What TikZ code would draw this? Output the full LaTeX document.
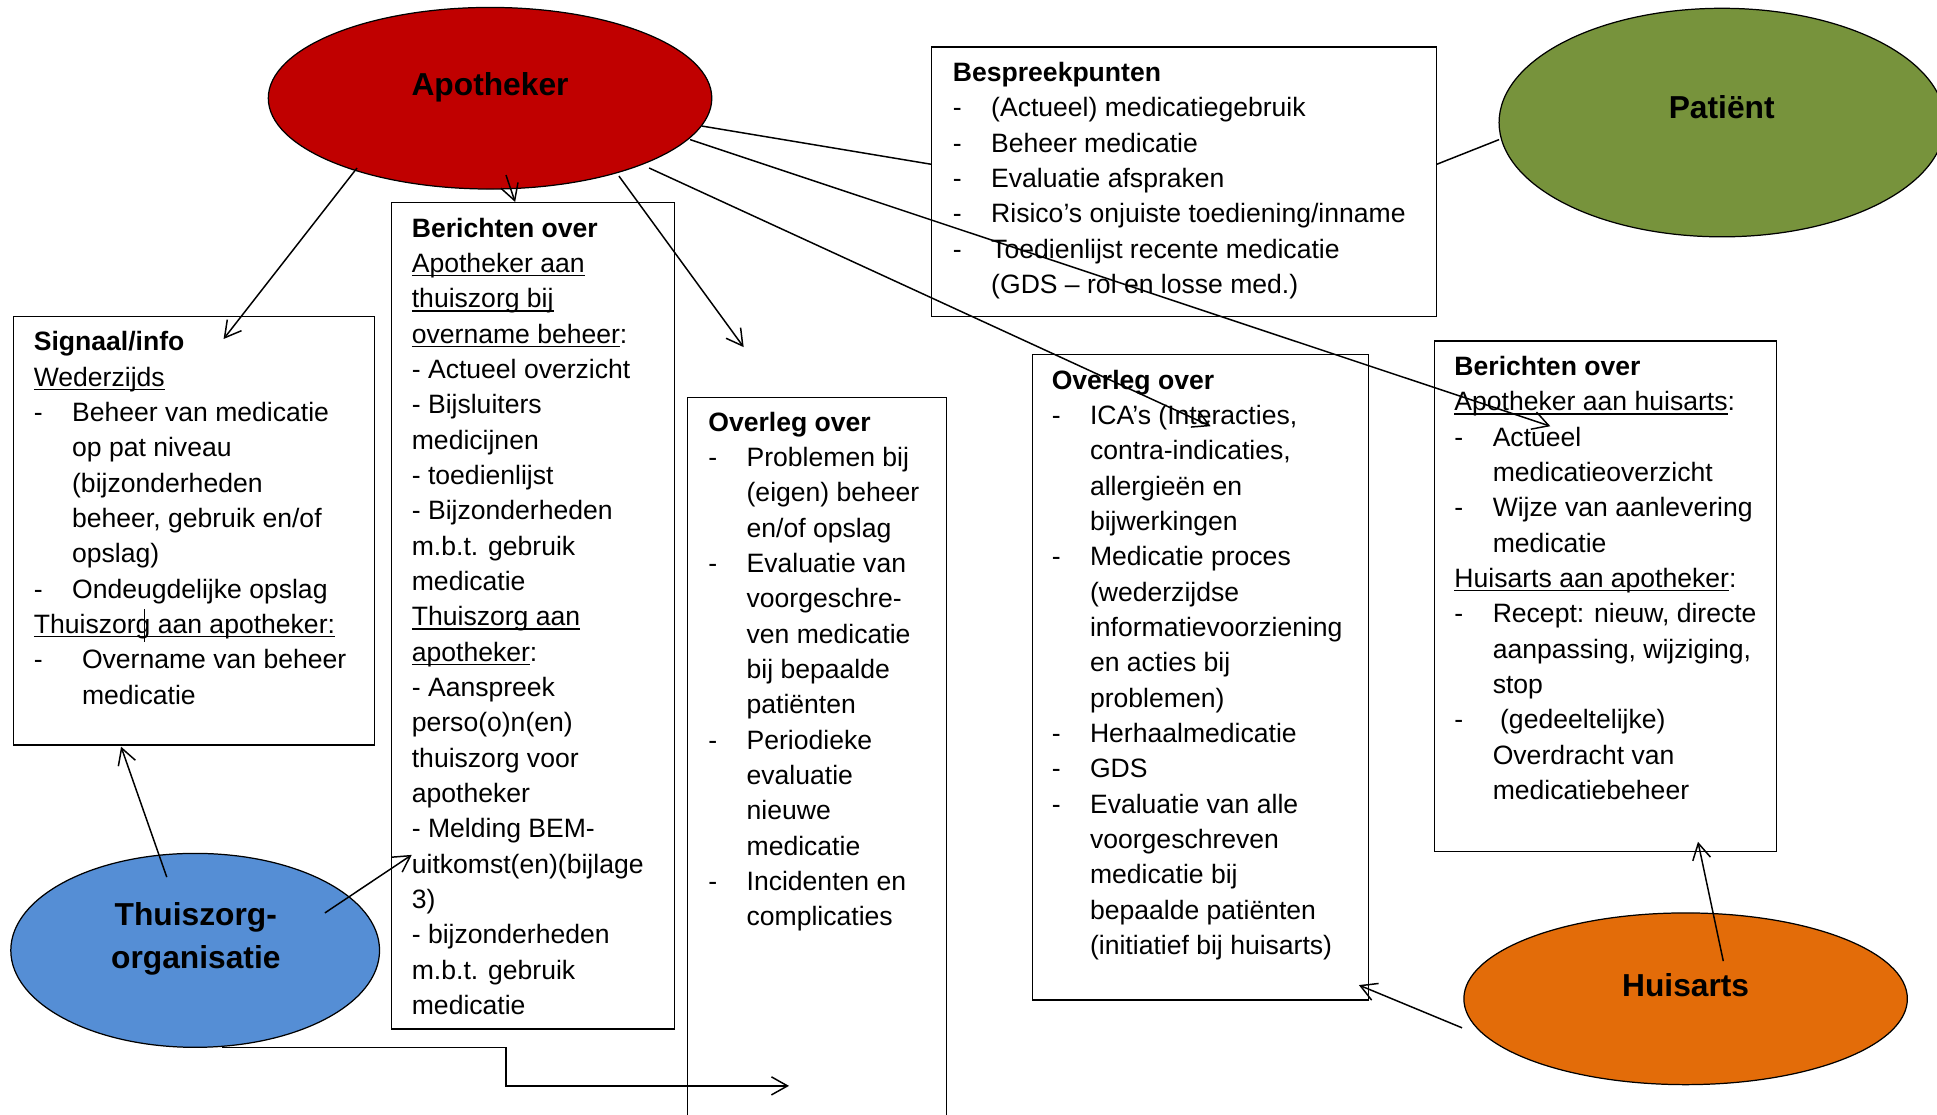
\documentclass[tikz,border=0pt]{standalone}
\usepackage{fontspec}
\setmainfont{Liberation Sans}
\usetikzlibrary{shapes.geometric,arrows.meta,fit,calc}
\definecolor{apored}{RGB}{192,0,0}
\definecolor{patgreen}{RGB}{119,147,60}
\definecolor{thzblue}{RGB}{85,142,213}
\definecolor{huiorange}{RGB}{227,108,9}
\newcommand\undl[1]{\leavevmode\setbox0=\hbox{#1}\rlap{\rule[-1.6pt]{\wd0}{0.6pt}}\box0}
\newcommand\dashitem[1]{\leavevmode\makebox[15.5pt][l]{-}#1}
\newcommand\contline[1]{\leavevmode\hspace*{15.5pt}#1}
\tikzset{
  boxed/.style={draw=black, line width=0.5pt, inner sep=0pt, outer sep=0pt},
  ell/.style={ellipse, draw=black, line width=0.5pt, inner sep=0pt},
  txt/.style={inner sep=0pt, anchor=base west, font=\fontsize{10.75pt}{14.3pt}\selectfont},
  lbl/.style={inner sep=0pt, anchor=base, font=\fontsize{12.85pt}{17.5pt}\selectfont\bfseries},
  conn/.style={line width=0.6pt},
  arr/.style={conn, -{Straight Barb[length=6.5pt,width=7.3pt]}},
}
\begin{document}
\begin{tikzpicture}[x=0.5pt,y=-0.5pt]
\useasboundingbox (0,0) rectangle (1568,902);

% boxes
\node[boxed, fit={(754,38) (1163,256)}] (besp) {};
\node[boxed, fit={(11,256.4) (303,603)}] (sig) {};
\node[boxed, fit={(317,164) (545.7,833)}] (berL) {};
\node[boxed, fit={(556.5,322) (766.4,925)}] (ovM) {};
\node[boxed, fit={(835.5,287) (1107.6,809.5)}] (ovR) {};
\node[boxed, fit={(1161,276) (1438.3,689.5)}] (berR) {};

% ellipses
\node[ell, fill=apored, minimum width=179.5pt, minimum height=73.5pt] (apo) at (396.7,79.5) {};
\node[ell, fill=patgreen, minimum width=180.5pt, minimum height=92.5pt] (pat) at (1394,99.2) {};
\node[ell, fill=thzblue, minimum width=149.25pt, minimum height=78.5pt] (thz) at (158,769.3) {};
\node[ell, fill=huiorange, minimum width=179.5pt, minimum height=69.5pt] (hui) at (1364.5,808.5) {};

% ellipse labels
\node[lbl] (apoT) at (396.7,77) {Apotheker};
\node[lbl] (patT) at (1393.7,95.8) {Patiënt};
\node[lbl] (huiT) at (1364.5,806.8) {Huisarts};
\node[lbl] (thzT) at (158.5,748.8) {\parbox[t]{140pt}{\centering Thuiszorg-\\organisatie}};

% box texts
\node[txt] (bespT) at (771,66) {\parbox[t]{230pt}{\raggedright
\textbf{Bespreekpunten}\\
\dashitem{(Actueel) medicatiegebruik}\\
\dashitem{Beheer medicatie}\\
\dashitem{Evaluatie afspraken}\\
\dashitem{Risico’s onjuiste toediening/inname}\\
\dashitem{Toedienlijst recente medicatie}\\
\contline{(GDS – rol en losse med.)}}};

\node[txt] (sigT) at (27,284) {\parbox[t]{160pt}{\raggedright
\textbf{Signaal/info}\\
\undl{Wederzijds}\\
\dashitem{Beheer van medicatie}\\
\contline{op pat niveau}\\
\contline{(bijzonderheden}\\
\contline{beheer, gebruik en/of}\\
\contline{opslag)}\\
\dashitem{Ondeugdelijke opslag}\\
\undl{Thuiszorg aan apotheker:}\\
\leavevmode\makebox[19.5pt][l]{-}Overname van beheer\\
\leavevmode\hspace*{19.5pt}medicatie}};

\node[txt] (berLT) at (333,192) {\parbox[t]{130pt}{\raggedright
\textbf{Berichten over}\\
\undl{Apotheker aan}\\
\undl{thuiszorg bij}\\
\undl{overname beheer}:\\
- Actueel overzicht\\
- Bijsluiters\\
medicijnen\\
- toedienlijst\\
- Bijzonderheden\\
m.b.t. gebruik\\
medicatie\\
\undl{Thuiszorg aan}\\
\undl{apotheker}:\\
- Aanspreek\\
perso(o)n(en)\\
thuiszorg voor\\
apotheker\\
- Melding BEM-\\
uitkomst(en)(bijlage\\
3)\\
- bijzonderheden\\
m.b.t. gebruik\\
medicatie}};

\node[txt] (ovMT) at (573,349) {\parbox[t]{120pt}{\raggedright
\textbf{Overleg over}\\
\dashitem{Problemen bij}\\
\contline{(eigen) beheer}\\
\contline{en/of opslag}\\
\dashitem{Evaluatie van}\\
\contline{voorgeschre-}\\
\contline{ven medicatie}\\
\contline{bij bepaalde}\\
\contline{patiënten}\\
\dashitem{Periodieke}\\
\contline{evaluatie}\\
\contline{nieuwe}\\
\contline{medicatie}\\
\dashitem{Incidenten en}\\
\contline{complicaties}}};

\node[txt] (ovRT) at (851,315) {\parbox[t]{150pt}{\raggedright
\textbf{Overleg over}\\
\dashitem{ICA’s (Interacties,}\\
\contline{contra-indicaties,}\\
\contline{allergieën en}\\
\contline{bijwerkingen}\\
\dashitem{Medicatie proces}\\
\contline{(wederzijdse}\\
\contline{informatievoorziening}\\
\contline{en acties bij}\\
\contline{problemen)}\\
\dashitem{Herhaalmedicatie}\\
\dashitem{GDS}\\
\dashitem{Evaluatie van alle}\\
\contline{voorgeschreven}\\
\contline{medicatie bij}\\
\contline{bepaalde patiënten}\\
\contline{(initiatief bij huisarts)}}};

\node[txt] (berRT) at (1177,304) {\parbox[t]{150pt}{\raggedright
\textbf{Berichten over}\\
\undl{Apotheker aan huisarts}:\\
\dashitem{Actueel}\\
\contline{medicatieoverzicht}\\
\dashitem{Wijze van aanlevering}\\
\contline{medicatie}\\
\undl{Huisarts aan apotheker}:\\
\dashitem{Recept: nieuw, directe}\\
\contline{aanpassing, wijziging,}\\
\contline{stop}\\
\dashitem{\ (gedeeltelijke)}\\
\contline{Overdracht van}\\
\contline{medicatiebeheer}}};

% text cursor mark
\draw[line width=0.5pt] (117,493) -- (117,520);

% connectors
\draw[conn] ($(apo.center)+(171.3,22.5)$) -- ($(besp.north west)+(0,95)$);
\draw[conn] ($(pat.center)+(-180.5,13.8)$) -- ($(besp.north east)+(0,95)$);
\draw[arr] ($(apo.center)+(161.9,33.5)$) -- ($(berR.north west)+(94,69)$);
\draw[arr] ($(apo.center)+(128.8,56.5)$) -- ($(ovR.north west)+(144.5,58)$);
\coordinate (ovMfree) at ($(ovM.north west)+(45.5,-41)$);
\draw[arr] ($(apo.center)+(104.3,63)$) -- (ovMfree);
\draw[arr] ($(apo.center)+(12.9,62.2)$) -- ($(berL.north west)+(100,-0.5)$);
\draw[arr] ($(apo.center)+(-107.7,56.5)$) -- ($(sig.north west)+(170,18)$);
\draw[arr] ($(thz.center)+(-23,-59.3)$) -- ($(sig.south west)+(87,1.4)$);
\draw[arr] ($(thz.center)+(105,-30.3)$) -- ($(berL.north west)+(16.3,528)$);
\draw[arr] ($(thz.center)+(21.5,78.7)$) -- ++(230,0) |- ($(ovM.north west)+(82.2,557)$);
\draw[arr] ($(hui.center)+(30.5,-30.5)$) -- ($(berR.south west)+(213.5,-8.1)$);
\draw[arr] ($(hui.center)+(-181,23.5)$) -- ($(ovR.south east)+(-7.6,-12.1)$);
\end{tikzpicture}
\end{document}
